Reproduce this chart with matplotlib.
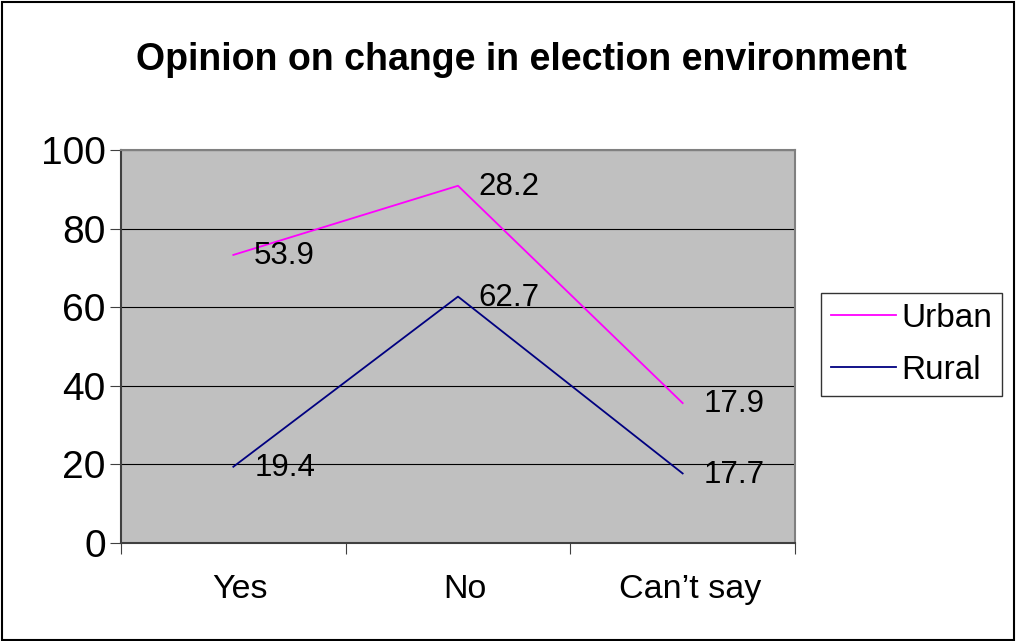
import matplotlib.pyplot as plt
import numpy as np
from matplotlib.patches import Rectangle
from matplotlib.transforms import ScaledTranslation

plt.rcParams['font.family'] = ['Liberation Sans', 'DejaVu Sans']

categories = ['Yes', 'No', 'Can\u2019t say']
urban = [53.9, 28.2, 17.9]
rural = [19.4, 62.7, 17.7]

x = np.arange(len(categories))
# stacked line chart: urban is drawn on top of rural
rural_top = np.array(rural)
urban_top = rural_top + np.array(urban)

fig = plt.figure(figsize=(10.16, 6.41), dpi=100)
ax = fig.add_axes([121 / 1016, 1 - 543 / 641, 674 / 1016, 393 / 641])
ax.set_facecolor('#C0C0C0')

ax.plot(x, urban_top, color='#FF00FF', lw=1.3, label='Urban', zorder=3)
ax.plot(x, rural_top, color='#000080', lw=1.3, label='Rural', zorder=3)

def add_labels(ys, vals):
    for xi, yi, v in zip(x, ys, vals):
        ax.annotate(f'{v:.1f}', xy=(xi, yi), xytext=(15, -1),
                    textcoords='offset points', ha='left', va='center',
                    fontsize=22.5, zorder=4)

add_labels(urban_top, urban)
add_labels(rural_top, rural)

ax.set_xlim(-0.5, 2.5)
ax.set_ylim(0, 100)
ax.set_yticks(np.arange(0, 101, 20))
ax.yaxis.grid(True, color='black', lw=0.8)
ax.set_axisbelow(True)
ax.tick_params(axis='y', labelsize=28, length=8, width=0.8, color='#404040', pad=3)

ax.set_xticks(x)
ax.set_xticklabels(categories)
ax.set_xticks([-0.5, 0.5, 1.5, 2.5], minor=True)
ax.tick_params(axis='x', which='major', length=0, labelsize=24.5, pad=22)
ax.tick_params(axis='x', which='minor', length=8, width=0.8, color='#404040')
shift = ScaledTranslation(7 / 100, 0, fig.dpi_scale_trans)
for lab in ax.get_xticklabels():
    lab.set_transform(lab.get_transform() + shift)

ax.spines['left'].set_color('#404040')
ax.spines['bottom'].set_color('#404040')
ax.spines['top'].set_color('#808080')
ax.spines['right'].set_color('#808080')
for s in ax.spines.values():
    s.set_linewidth(1.5)

fig.text(521 / 1016, 1 - 60 / 641, 'Opinion on change in election environment',
         ha='center', va='center', fontsize=27, fontweight='bold')

leg = ax.legend(loc='upper left', bbox_to_anchor=(821 / 1016, 1 - 293 / 641),
                bbox_transform=fig.transFigure, fontsize=24,
                frameon=True, fancybox=False, edgecolor='black', handlelength=1.95,
                handletextpad=0.15, borderaxespad=0, borderpad=0.3, labelspacing=0.62)
leg.get_frame().set_linewidth(1)

fig.patches.append(Rectangle((0.002, 0.002), 0.996, 0.995, transform=fig.transFigure,
                             fill=False, edgecolor='black', lw=1.5))

fig.savefig('out.png', dpi=100)
